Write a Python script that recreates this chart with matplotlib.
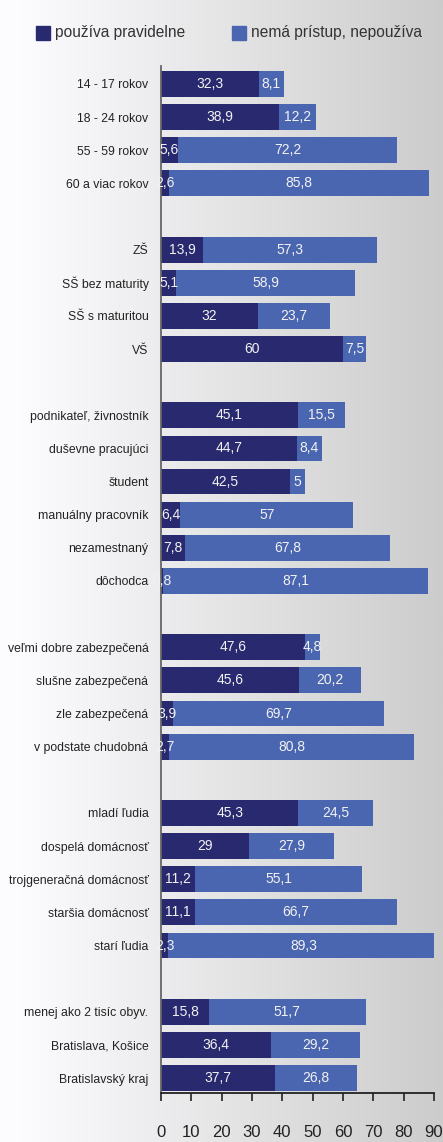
import numpy as np
import matplotlib.pyplot as plt
from matplotlib.patches import Rectangle

plt.rcParams['font.family'] = ['Liberation Sans', 'DejaVu Sans']

# Row labels, grouped; None marks an empty spacer row between groups
categories = [
    '14 - 17 rokov', '18 - 24 rokov', '55 - 59 rokov', '60 a viac rokov', None,
    'ZŠ', 'SŠ bez maturity', 'SŠ s maturitou', 'VŠ', None,
    'podnikateľ, živnostník', 'duševne pracujúci', 'študent', 'manuálny pracovník',
    'nezamestnaný', 'dôchodca', None,
    'veľmi dobre zabezpečená', 'slušne zabezpečená', 'zle zabezpečená',
    'v podstate chudobná', None,
    'mladí ľudia', 'dospelá domácnosť', 'trojgeneračná domácnosť',
    'staršia domácnosť', 'starí ľudia', None,
    'menej ako 2 tisíc obyv.', 'Bratislava, Košice', 'Bratislavský kraj',
]

uses_regularly = [
    32.3, 38.9, 5.6, 2.6, None,
    13.9, 5.1, 32, 60, None,
    45.1, 44.7, 42.5, 6.4, 7.8, 0.8, None,
    47.6, 45.6, 3.9, 2.7, None,
    45.3, 29, 11.2, 11.1, 2.3, None,
    15.8, 36.4, 37.7,
]

no_access = [
    8.1, 12.2, 72.2, 85.8, None,
    57.3, 58.9, 23.7, 7.5, None,
    15.5, 8.4, 5, 57, 67.8, 87.1, None,
    4.8, 20.2, 69.7, 80.8, None,
    24.5, 27.9, 55.1, 66.7, 89.3, None,
    51.7, 29.2, 26.8,
]

series_names = ['používa pravidelne', 'nemá prístup, nepoužíva']
x_ticks = [0, 10, 20, 30, 40, 50, 60, 70, 80, 90]

DARK = '#28296f'
LIGHT = '#4a66b0'


def fmt(v):
    return f'{v:g}'.replace('.', ',')


W, H = 443, 1142
fig = plt.figure(figsize=(W / 100, H / 100), dpi=100)

# horizontal white-to-grey background
bg = fig.add_axes([0, 0, 1, 1], zorder=-10)
grad = np.linspace(0, 1, 400)
start, end = np.array([0.99, 0.99, 1.0]), np.array([0.80, 0.80, 0.80])
cols = np.clip((grad[:, None] - 0.04) / 0.96, 0, 1)
img = start + (end - start) * cols
bg.imshow(img[None, :, :], aspect='auto', extent=[0, 1, 0, 1])
bg.set_axis_off()

ax = fig.add_axes([161 / W, 1 - 1093 / H, 273 / W, (1093 - 66) / H])
ax.patch.set_alpha(0)

rows = [i for i, c in enumerate(categories) if c is not None]
a = np.array([uses_regularly[i] for i in rows])
b = np.array([no_access[i] for i in rows])

ax.barh(rows, a, height=0.78, color=DARK, zorder=2)
ax.barh(rows, b, left=a, height=0.78, color=LIGHT, zorder=2)

for r, va, vb in zip(rows, a, b):
    ax.text(va / 2, r, fmt(va), ha='center', va='center', color='#f2f2f2',
            fontsize=10, zorder=3)
    ax.text(va + vb / 2, r, fmt(vb), ha='center', va='center', color='#f2f2f2',
            fontsize=10, zorder=3)

ax.set_xlim(0, 90)
ax.set_ylim(30.45, -0.54)
ax.set_yticks(rows)
ax.set_yticklabels([categories[i] for i in rows], fontsize=8.8, color='#222222')
ax.tick_params(axis='y', length=0, pad=9)
ax.set_xticks(x_ticks)
ax.tick_params(axis='x', direction='out', length=6, width=1.2, color='#222222',
               labelsize=12, labelcolor='#222222', pad=17)

for s in ['top', 'right']:
    ax.spines[s].set_visible(False)
ax.spines['left'].set_color('#666666')
ax.spines['left'].set_linewidth(1.3)
ax.spines['bottom'].set_color('#222222')
ax.spines['bottom'].set_linewidth(1.3)

# legend drawn in figure pixels
for x0, col, name in [(36, DARK, series_names[0]), (232, LIGHT, series_names[1])]:
    fig.patches.append(Rectangle((x0 / W, 1 - 40 / H), 14 / W, 14 / H,
                                 transform=fig.transFigure, color=col))
    fig.text((x0 + 19) / W, 1 - 33 / H, name, ha='left', va='center',
             fontsize=11.2, color='#333333')

fig.savefig('out.png', dpi=100)
